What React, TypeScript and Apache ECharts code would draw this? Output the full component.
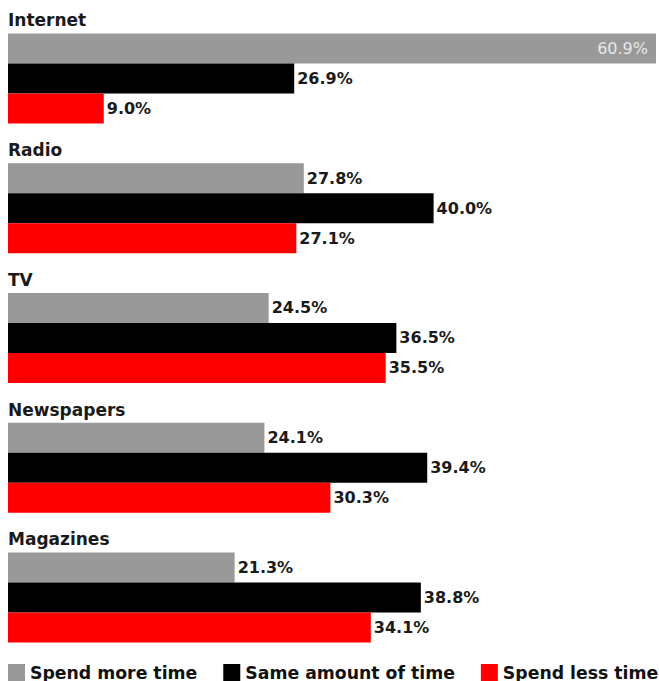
import React, { useEffect, useRef } from "react";
import * as echarts from "echarts";

const categories = ["Internet", "Radio", "TV", "Newspapers", "Magazines"];
const seriesNames = ["Spend more time", "Same amount of time", "Spend less time"];
const moreTime = [60.9, 27.8, 24.5, 24.1, 21.3];
const sameTime = [26.9, 40.0, 36.5, 39.4, 38.8];
const lessTime = [9.0, 27.1, 35.5, 30.3, 34.1];
const colors = ["#999999", "#000000", "#ff0000"];

const FONT = "DejaVu Sans";

export default function App() {
  const ref = useRef<HTMLDivElement>(null);
  useEffect(() => {
    if (!ref.current) return;
    const chart = echarts.init(ref.current, undefined, { renderer: "svg" });
    const maxVal = Math.max(...moreTime, ...sameTime, ...lessTime);
    const mkData = (arr: number[]) =>
      arr.map((v) =>
        v === maxVal
          ? {
              value: v,
              label: {
                position: "insideRight",
                distance: 8,
                color: "#e8e8e8",
                fontWeight: "normal",
              },
            }
          : v
      );
    const all = [moreTime, sameTime, lessTime];
    chart.setOption({
      animation: false,
      legend: {
        data: seriesNames,
        left: 8,
        bottom: 0,
        width: 700,
        padding: 0,
        icon: "rect",
        itemWidth: 17,
        itemHeight: 17,
        itemGap: 26,
        textStyle: {
          fontFamily: FONT,
          fontWeight: "bold",
          fontSize: 17.3,
          color: "#111",
        },
      },
      grid: { left: 8, right: 3, top: 13.6, height: 648.75 },
      xAxis: { type: "value", min: 0, max: maxVal, show: false },
      yAxis: {
        type: "category",
        data: categories,
        inverse: true,
        axisLine: { show: false },
        axisTick: { show: false },
        splitLine: { show: false },
        axisLabel: {
          inside: true,
          margin: 0,
          interval: 0,
          align: "left",
          verticalAlign: "bottom",
          padding: [0, 0, 48, 0],
          lineHeight: 20,
          fontFamily: FONT,
          fontWeight: "bold",
          fontSize: 17,
          color: "#1a1a1a",
        },
      },
      series: all.map((arr, i) => ({
        name: seriesNames[i],
        type: "bar",
        data: mkData(arr),
        barWidth: 30,
        barGap: "0%",
        itemStyle: { color: colors[i] },
        label: {
          show: true,
          position: "right",
          distance: 3,
          formatter: (p: any) => Number(p.value).toFixed(1) + "%",
          fontFamily: FONT,
          fontWeight: "bold",
          fontSize: 16,
          color: "#1a1a1a",
        },
      })),
    });
    return () => chart.dispose();
  }, []);
  return (
    <div
      ref={ref}
      style={{ position: "absolute", left: 0, top: 0, width: 659, height: 681, background: "#fff" }}
    />
  );
}
